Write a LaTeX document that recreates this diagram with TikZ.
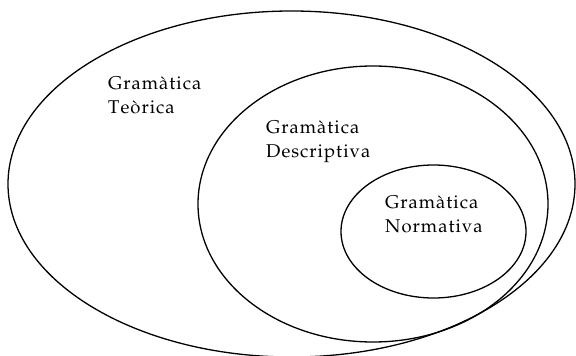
\documentclass[tikz,border=0pt]{standalone}
\usepackage[T1]{fontenc}
\usepackage{mathpazo}
\makeatletter
\newcommand\trk[1]{\@tfor\trk@x:=#1\do{\trk@x\kern1pt}}
\makeatother
\begin{document}
\begin{tikzpicture}[x=1pt,y=-1pt,
  ring/.style={draw=black,line width=1.3pt},
  lab/.style={anchor=north west,inner sep=0pt,align=left,
    font=\fontsize{18.5}{24}\selectfont}]
\useasboundingbox (0,0) rectangle (576,356);
\coordinate (c1) at (291.5,184);
\coordinate (c2) at (373,204);
\coordinate (c3) at (433.5,231.5);
\draw[ring] (c1) ellipse [x radius=283.5, y radius=173];
\draw[ring] (c2) ellipse [x radius=175, y radius=138];
\draw[ring] (c3) ellipse [x radius=92.5, y radius=66.5];
\node[lab] (t1) at (108,76) {\trk{Gram{\`a}tica}\\\trk{Te{\`o}rica}};
\node[lab] (t2) at (266,120) {\trk{Gram{\`a}tica}\\\trk{Descriptiva}};
\node[lab] (t3) at (385,195.5) {\trk{Gram{\`a}tica}\\\trk{Normativa}};
\end{tikzpicture}
\end{document}
